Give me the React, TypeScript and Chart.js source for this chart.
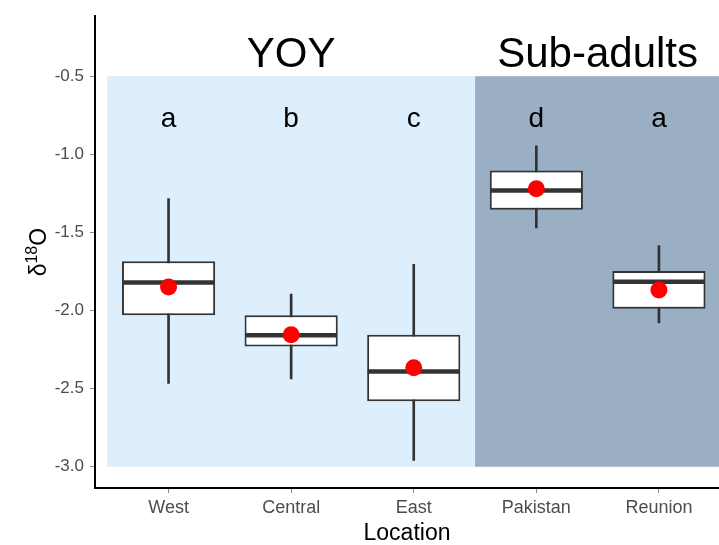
import React, { useEffect, useRef } from "react";
import { Chart, registerables } from "chart.js";

Chart.register(...registerables);

const categories = ["West", "Central", "East", "Pakistan", "Reunion"];
const positions = [1, 2, 3, 4, 5];
const whiskerLow = [-2.466, -2.437, -2.959, -1.472, -2.079];
const q1 = [-2.03, -2.231, -2.58, -1.355, -1.988];
const medians = [-1.821, -2.159, -2.39, -1.231, -1.815];
const q3 = [-1.685, -2.03, -2.155, -1.104, -1.747];
const whiskerHigh = [-1.284, -1.895, -1.704, -0.945, -1.584];
const means = [-1.85, -2.155, -2.367, -1.22, -1.869];
const letters = ["a", "b", "c", "d", "a"];
const letterY = -0.776;
const yTicks = [-3.0, -2.5, -2.0, -1.5, -1.0, -0.5];
const groupNames = ["YOY", "Sub-adults"];
const groupStart = [0.5, 3.5];
const groupEnd = [3.5, 5.6];
const groupLabelX = [2, 4.5];
const groupLabelY = -0.364;
const bandTop = -0.5;
const bandBottom = -3.0;
const groupColors = ["#DDEEFD", "#9AAFC4"];

const FAM = "'Liberation Sans', Arial, Helvetica, sans-serif";

const bandsPlugin = {
  id: "bands",
  beforeDatasetsDraw(chart: any) {
    const { ctx, chartArea, scales } = chart;
    const x = scales.x, y = scales.y;
    ctx.save();
    ctx.beginPath();
    ctx.rect(chartArea.left, chartArea.top, chartArea.right - chartArea.left, chartArea.bottom - chartArea.top);
    ctx.clip();
    for (let i = 0; i < groupStart.length; i++) {
      const x0 = x.getPixelForValue(groupStart[i]);
      const x1 = x.getPixelForValue(groupEnd[i]);
      const y0 = y.getPixelForValue(bandTop);
      const y1 = y.getPixelForValue(bandBottom);
      ctx.fillStyle = groupColors[i];
      ctx.fillRect(x0, y0, x1 - x0, y1 - y0);
    }
    ctx.restore();
  },
};

const textPlugin = {
  id: "texts",
  afterDraw(chart: any) {
    const { ctx, chartArea, scales } = chart;
    const x = scales.x, y = scales.y;
    ctx.save();
    ctx.fillStyle = "#000";
    ctx.textAlign = "center";
    ctx.textBaseline = "middle";
    ctx.font = `28px ${FAM}`;
    letters.forEach((l, i) => {
      ctx.fillText(l, x.getPixelForValue(positions[i]), y.getPixelForValue(letterY));
    });
    ctx.font = `42px ${FAM}`;
    groupNames.forEach((g, i) => {
      ctx.fillText(g, x.getPixelForValue(groupLabelX[i]), y.getPixelForValue(groupLabelY));
    });
    // y axis title with superscript
    const big = `23px ${FAM}`;
    const small = `16px ${FAM}`;
    ctx.translate(46, (chartArea.top + chartArea.bottom) / 2);
    ctx.rotate(-Math.PI / 2);
    ctx.textAlign = "left";
    ctx.textBaseline = "alphabetic";
    ctx.font = big;
    const wD = ctx.measureText("δ").width;
    const wO = ctx.measureText("O").width;
    ctx.font = small;
    const w18 = ctx.measureText("18").width;
    let x0 = -(wD + w18 + wO) / 2;
    ctx.font = big;
    ctx.fillText("δ", x0, 0);
    x0 += wD;
    ctx.font = small;
    ctx.fillText("18", x0, -9);
    x0 += w18;
    ctx.font = big;
    ctx.fillText("O", x0, 0);
    ctx.restore();
  },
};

export default function App() {
  const ref = useRef<HTMLCanvasElement | null>(null);
  useEffect(() => {
    if (!ref.current) return;
    const gridOpts = {
      display: true,
      drawOnChartArea: false,
      drawTicks: true,
      tickLength: 5,
      color: "#8a8a8a",
      lineWidth: 1,
      offset: false,
    };
    const chart = new Chart(ref.current, {
      type: "bar",
      data: {
        datasets: [
          {
            type: "scatter",
            label: "mean",
            data: positions.map((p, i) => ({ x: p, y: means[i] })),
            pointRadius: 8.5,
            pointBackgroundColor: "#FF0000",
            pointBorderColor: "#FF0000",
            pointBorderWidth: 0,
            order: 1,
          } as any,
          {
            type: "scatter",
            label: "median",
            data: positions.map((p, i) => ({ x: p, y: medians[i] })),
            pointStyle: "line",
            pointRadius: 46,
            pointBorderColor: "#333333",
            pointBorderWidth: 4.5,
            borderColor: "#333333",
            order: 2,
          } as any,
          {
            type: "bar",
            label: "box",
            data: positions.map((p, i) => ({ x: p, y: [q1[i], q3[i]] })),
            backgroundColor: "#FFFFFF",
            borderColor: "#333333",
            borderWidth: 2,
            borderSkipped: false,
            barPercentage: 0.76,
            categoryPercentage: 1,
            grouped: false,
            order: 3,
          } as any,
          {
            type: "bar",
            label: "whisker",
            data: positions.map((p, i) => ({ x: p, y: [whiskerLow[i], whiskerHigh[i]] })),
            backgroundColor: "#333333",
            borderWidth: 0,
            barThickness: 2,
            grouped: false,
            order: 4,
          } as any,
        ],
      },
      options: {
        responsive: false,
        animation: false,
        devicePixelRatio: 1,
        layout: { autoPadding: false, padding: { top: 12, right: 0, left: 0, bottom: 0 } },
        plugins: { legend: { display: false }, tooltip: { enabled: false } },
        scales: {
          x: {
            type: "linear",
            min: 0.4,
            max: 5.49,
            offset: false,
            afterBuildTicks: (s: any) => {
              s.ticks = positions.map((v) => ({ value: v }));
            },
            afterFit: (s: any) => {
              s.height = 57;
            },
            grid: gridOpts,
            border: { display: true, color: "#000", width: 2 },
            ticks: {
              callback: (v: any) => categories[Math.round(Number(v)) - 1] ?? "",
              font: { family: FAM, size: 18 },
              color: "#4D4D4D",
              padding: 4,
              maxRotation: 0,
              autoSkip: false,
            },
            title: {
              display: true,
              text: "Location",
              color: "#000",
              font: { family: FAM, size: 23, lineHeight: 1 },
              padding: { top: 0, bottom: 0 },
            },
          },
          y: {
            type: "linear",
            min: -3.136,
            max: -0.116,
            afterBuildTicks: (s: any) => {
              s.ticks = yTicks.map((v) => ({ value: v }));
            },
            afterFit: (s: any) => {
              s.width = 95;
            },
            grid: gridOpts,
            border: { display: true, color: "#000", width: 2 },
            ticks: {
              callback: (v: any) => Number(v).toFixed(1),
              font: { family: FAM, size: 17 },
              color: "#4D4D4D",
              padding: 6,
            },
          },
        },
      } as any,
      plugins: [bandsPlugin, textPlugin],
    });
    return () => chart.destroy();
  }, []);
  return (
    <div style={{ position: "absolute", left: 0, top: 0, width: 719, height: 545, overflow: "hidden", background: "#fff" }}>
      <canvas ref={ref} width={719} height={545} style={{ display: "block", width: 719, height: 545 }} />
    </div>
  );
}
